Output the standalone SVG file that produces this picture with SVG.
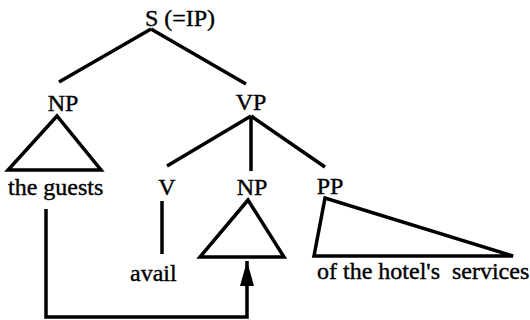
<svg xmlns="http://www.w3.org/2000/svg" width="530" height="320" viewBox="0 0 530 320">
  <style>
    .lbl { font-family: 'Liberation Serif', 'DejaVu Serif', serif; font-size: 24px; fill: #000; stroke: #000; stroke-width: 0.4; }
    .mid { text-anchor: middle; }
    .edge { fill: none; stroke: #000; stroke-width: 3.5; stroke-linecap: butt; }
    .tri { fill: none; stroke: #000; stroke-width: 3.5; stroke-linejoin: miter; }
  </style>
  <defs>
    <marker id="arrowhead" markerUnits="userSpaceOnUse" markerWidth="26" markerHeight="16" refX="25" refY="7" orient="auto">
      <path d="M0,0 L25,7 L0,14 Z" fill="#000"/>
    </marker>
  </defs>
  <rect width="530" height="320" fill="#fff"/>

  <g id="S">
    <text x="180" y="26" class="lbl mid" font-family="Liberation Serif">S (=IP)</text>
  </g>
  <g id="NP-subject">
    <text x="63" y="111" class="lbl mid" font-family="Liberation Serif">NP</text>
    <polygon class="tri" points="57,116 8,170 101,170"/>
    <text x="8" y="195" class="lbl" font-family="Liberation Serif">the guests</text>
  </g>
  <g id="VP">
    <text x="251" y="110" class="lbl mid" font-family="Liberation Serif">VP</text>
  </g>
  <g id="V">
    <text x="167" y="195" class="lbl mid" font-family="Liberation Serif">V</text>
    <text x="130" y="281" class="lbl" font-family="Liberation Serif">avail</text>
  </g>
  <g id="NP-object">
    <text x="252" y="195" class="lbl mid" font-family="Liberation Serif">NP</text>
    <polygon class="tri" points="248,200 200,257 284,257"/>
  </g>
  <g id="PP">
    <text x="330" y="194" class="lbl mid" font-family="Liberation Serif">PP</text>
    <polygon class="tri" points="325,198 314,256 513,256"/>
    <text x="317" y="279" class="lbl" font-family="Liberation Serif" xml:space="preserve" style="white-space:pre">of the hotel's  services</text>
  </g>

  <g id="connectors">
    <line class="edge" x1="151" y1="29" x2="59" y2="82"/>
    <line class="edge" x1="151" y1="29" x2="246" y2="84"/>
    <line class="edge" x1="251" y1="116" x2="167" y2="166"/>
    <line class="edge" x1="251" y1="116" x2="251" y2="171"/>
    <line class="edge" x1="251" y1="116" x2="325" y2="167"/>
    <line class="edge" x1="162" y1="201" x2="162" y2="254"/>
    <path class="edge" d="M46,209 V317 H247 V261" marker-end="url(#arrowhead)"/>
  </g>
</svg>
